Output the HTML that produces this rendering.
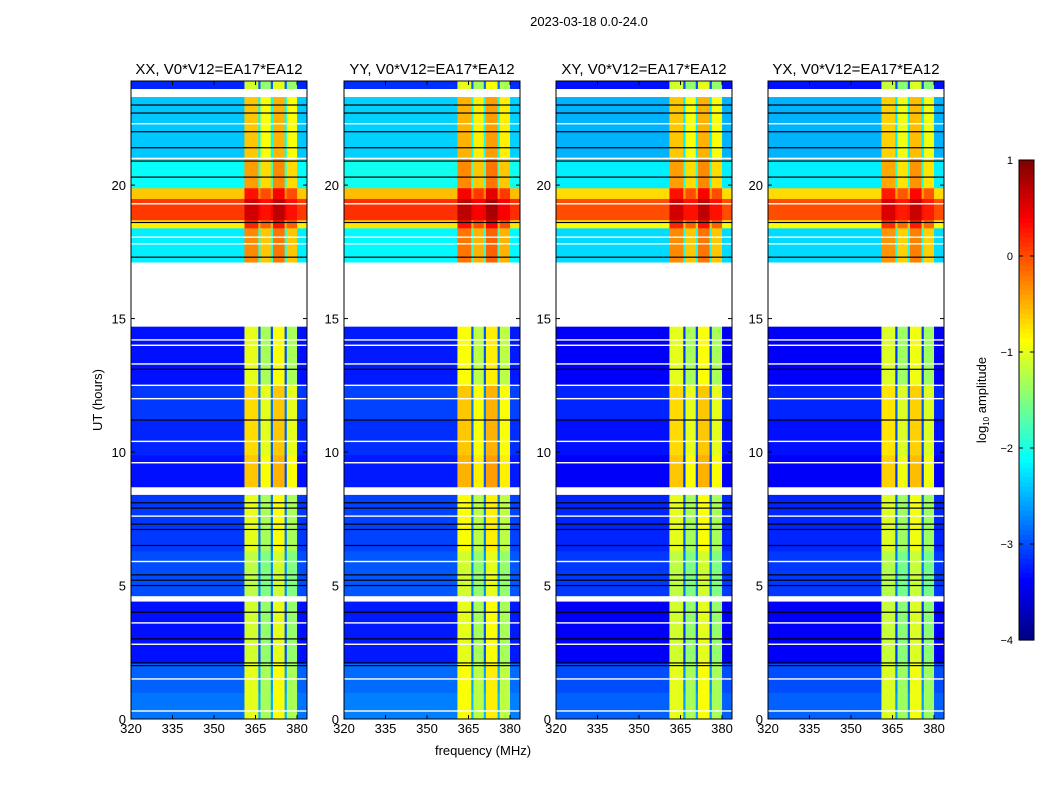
<!DOCTYPE html>
<html><head><meta charset="utf-8">
<style>
body{margin:0;background:#fff;}
svg{display:block;font-family:"Liberation Sans","DejaVu Sans",sans-serif;}
</style></head>
<body>
<svg id="fig" width="1050" height="800" viewBox="0 0 1050 800">
<rect x="0" y="0" width="1050" height="800" fill="#fff"/>
<text x="589" y="26" font-size="13" text-anchor="middle">2023-03-18 0.0-24.0</text>
<text x="483" y="755" font-size="13" text-anchor="middle">frequency (MHz)</text>
<text x="102" y="400" font-size="13" text-anchor="middle" transform="rotate(-90 102 400)">UT (hours)</text>
<g id="panels"></g>
<g id="cbar"></g>
</svg>
<script>
// ---- data ----
const panelTitles = ["XX, V0*V12=EA17*EA12","YY, V0*V12=EA17*EA12","XY, V0*V12=EA17*EA12","YX, V0*V12=EA17*EA12"];
const panelBgOffset = [0, 0.05, -0.1, -0.1];
const panelBandOffset = [0, 0.1, 0, -0.05];
const xTicks = [320,335,350,365,380];
const yTicks = [0,5,10,15,20];
const cbarTicks = [1,0,-1,-2,-3,-4];
// time segments (hours) with background and band log10 amplitude
const segStart = [0.0, 1.0, 2.1, 4.6, 6.3, 8.7, 9.9, 11.2, 12.5, 17.1, 18.4, 18.7, 19.5, 19.9, 21.0, 23.6];
const segEnd   = [1.0, 2.1, 4.4, 6.3, 8.4, 9.9, 11.2, 12.5, 14.7, 18.4, 18.7, 19.5, 19.9, 21.0, 23.3, 24.0];
const segBg    = [-2.8,-2.9,-3.3,-3.0,-3.1,-3.3,-3.2,-3.1,-3.3,-2.2,-0.8, 0.1,-0.6,-2.1,-2.4,-3.2];
const segBand  = [-1.0,-1.0,-1.1,-1.2,-1.0,-0.6,-0.7,-0.7,-1.0,-0.3, 0.2, 0.6, 0.3,-0.4,-0.6,-1.1];
// frequency columns (MHz edges); band columns offset relative to band level, others use background
const colStart = [320, 361, 366, 366.8, 370.5, 371.3, 375.5, 376.3, 380];
const colEnd   = [361, 366, 366.8, 370.5, 371.3, 375.5, 376.3, 380, 384];
const colIsBand= [0, 1, 0, 1, 0, 1, 0, 1, 0];
const colOffset= [0, 0.0, 0.3, -0.3, 0.3, 0.1, 0.3, -0.3, 0];
// flagged (white) gaps
const gapStart = [4.4, 8.4, 14.7, 23.3];
const gapEnd   = [4.6, 8.65, 17.1, 23.6];
// thin white lines and black lines (hours)
const whiteLines = [0.3,1.5,2.8,3.6,5.9,7.6,9.6,10.4,12.0,12.5,13.3,14.0,14.2,17.8,18.05,19.3,21.0,22.3];
const blackLines = [2.0,2.1,3.0,4.0,5.0,5.2,5.4,6.5,7.1,7.3,7.9,8.1,11.2,13.1,17.3,18.6,20.3,20.9,21.4,22.0,22.7,23.0];

// ---- helpers ----
const NS="http://www.w3.org/2000/svg";
function mk(tag, attrs, parent){const e=document.createElementNS(NS,tag);for(const k in attrs)e.setAttribute(k,attrs[k]);parent.appendChild(e);return e;}
function jet(v){let t=(v+4)/5;t=Math.max(0,Math.min(1,t));
 const f=x=>Math.max(0,Math.min(1,x));
 const r=f(Math.min(4*t-1.5,-4*t+4.5)),g=f(Math.min(4*t-0.5,-4*t+3.5)),b=f(Math.min(4*t+0.5,-4*t+2.5));
 return `rgb(${Math.round(r*255)},${Math.round(g*255)},${Math.round(b*255)})`;}
const panelX=[131,344,556,768], panelW=176, plotTop=81, plotBottom=719;
const fMin=320,fMax=383.6,tMin=0,tMax=23.9;

const gP=document.getElementById('panels');
panelTitles.forEach((title,p)=>{
 const x0=panelX[p];
 const X=f=>x0+(f-fMin)/(fMax-fMin)*panelW;
 const Y=t=>plotBottom-(t-tMin)/(tMax-tMin)*(plotBottom-plotTop);
 const g=mk('g',{},gP);
 
 
 const clip=mk('clipPath',{id:'c'+p},g);
 mk('rect',{x:x0,y:plotTop,width:panelW,height:plotBottom-plotTop},clip);
 const h=mk('g',{'clip-path':`url(#c${p})`},g);
 for(let s=0;s<segStart.length;s++){
  for(let c=0;c<colStart.length;c++){
   const v=colIsBand[c]?segBand[s]+colOffset[c]+panelBandOffset[p]:segBg[s]+colOffset[c]+panelBgOffset[p];
   const y1=Y(segEnd[s]),y2=Y(segStart[s]);
   const r=mk('rect',{x:X(colStart[c]),y:y1,width:X(colEnd[c])-X(colStart[c])+0.5,height:y2-y1+0.5,fill:jet(v)},h);
   
   
  }
 }
 whiteLines.forEach(t=>{const l=mk('rect',{x:x0,y:Y(t)-0.7,width:panelW,height:1.4,fill:'#fff'},h);
  
  });
 blackLines.forEach(t=>{const l=mk('rect',{x:x0,y:Y(t)-0.6,width:panelW,height:1.2,fill:'#000'},h);
  
  });
 for(let i=0;i<gapStart.length;i++){const r=mk('rect',{x:x0,y:Y(gapEnd[i]),width:panelW,height:Y(gapStart[i])-Y(gapEnd[i]),fill:'#fff'},h);
  
  }
 const fr=mk('rect',{x:x0,y:plotTop,width:panelW,height:plotBottom-plotTop,fill:'none',stroke:'#000','stroke-width':1},g);
 
 
 const tt=mk('text',{x:x0+panelW/2,y:74,'font-size':15,'text-anchor':'middle'},g);tt.textContent=title;
 
 
 xTicks.forEach(v=>{const x=X(v);
  mk('line',{x1:x,x2:x,y1:plotBottom,y2:plotBottom-4,stroke:'#000'},g);
  mk('line',{x1:x,x2:x,y1:plotTop,y2:plotTop+4,stroke:'#000'},g);
  const t=mk('text',{x:x,y:plotBottom+14,'font-size':13,'text-anchor':'middle'},g);t.textContent=v;
  
  });
 yTicks.forEach(v=>{const y=Y(v);
  mk('line',{x1:x0,x2:x0+4,y1:y,y2:y,stroke:'#000'},g);
  mk('line',{x1:x0+panelW,x2:x0+panelW-4,y1:y,y2:y,stroke:'#000'},g);
  const t=mk('text',{x:x0-5,y:y+5,'font-size':13,'text-anchor':'end'},g);t.textContent=v;
  
  });
});

// colorbar
const gC=document.getElementById('cbar');


const cx=1019,cw=15,ct=160,cb=640;
const CY=v=>cb-(v+4)/5*(cb-ct);
for(let i=0;i<100;i++){const v=-4+i*0.05;
 mk('rect',{x:cx,y:CY(v+0.05),width:cw,height:(cb-ct)/100+0.6,fill:jet(v+0.025)},gC);}
mk('rect',{x:cx,y:ct,width:cw,height:cb-ct,fill:'none',stroke:'#000'},gC);
cbarTicks.forEach(v=>{const y=CY(v);
 mk('line',{x1:cx,x2:cx+4,y1:y,y2:y,stroke:'#000'},gC);
 mk('line',{x1:cx+cw,x2:cx+cw-4,y1:y,y2:y,stroke:'#000'},gC);
 const t=mk('text',{x:1013,y:y+4,'font-size':11,'text-anchor':'end'},gC);t.textContent=(v<0?'\u2212'+(-v):v);
 
 });
const lab=mk('text',{x:986,y:400,'font-size':13,'text-anchor':'middle',transform:'rotate(-90 986 400)'},gC);
lab.appendChild(document.createTextNode('log'));
const sub=mk('tspan',{'font-size':8,dy:3},lab);sub.textContent='10';
const rest=mk('tspan',{dy:-3},lab);rest.textContent=' amplitude';


</script>
</body></html>
